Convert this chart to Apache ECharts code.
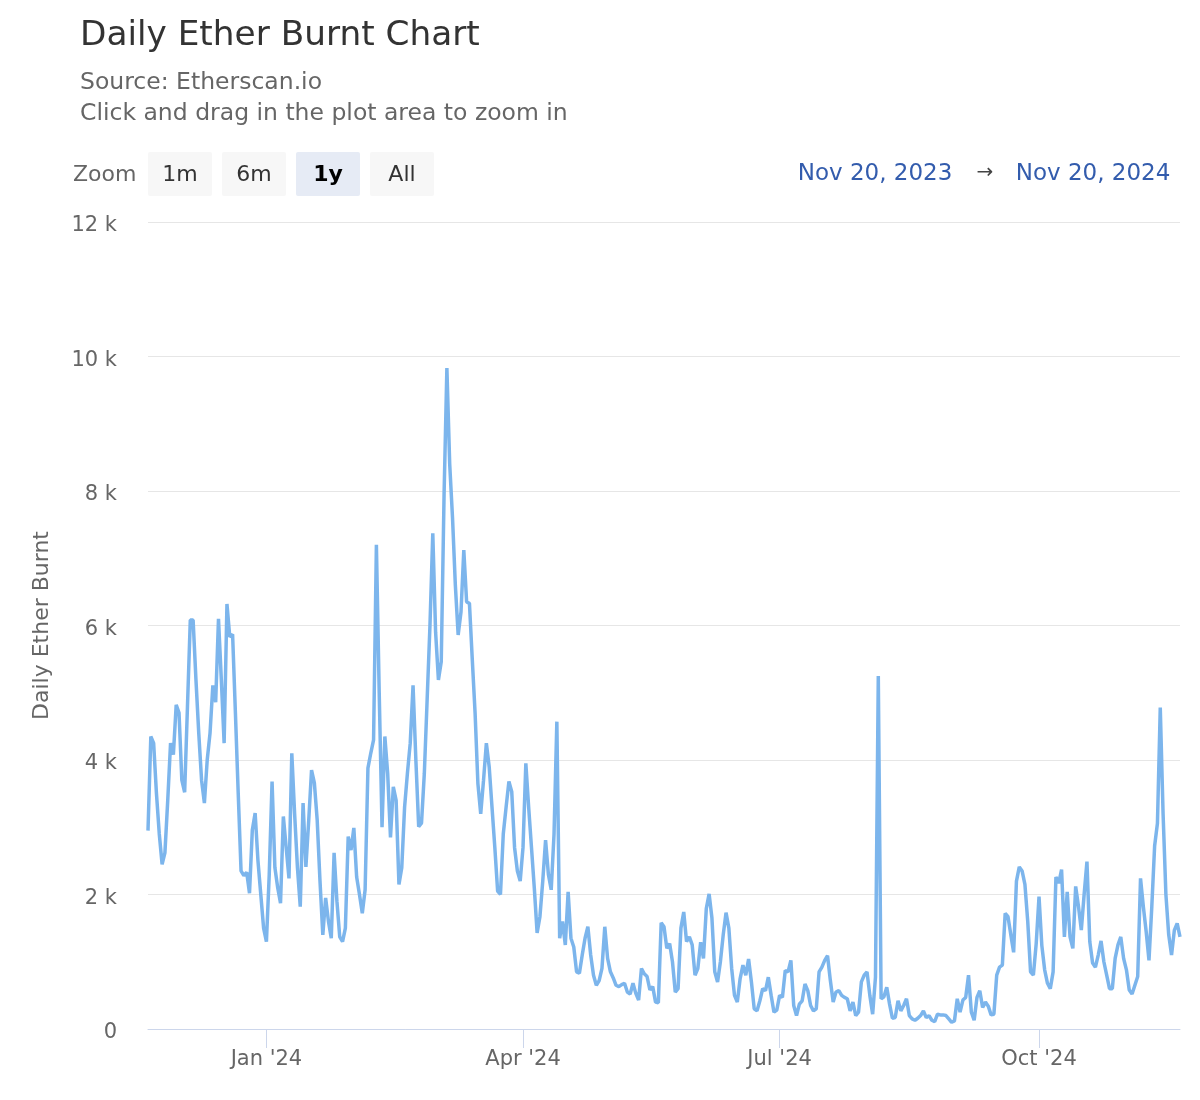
<!DOCTYPE html>
<html>
<head>
<meta charset="utf-8">
<title>Daily Ether Burnt Chart</title>
<script src="https://cdn.jsdelivr.net/npm/echarts@6/dist/echarts.min.js"></script>
<style>
  html, body { margin: 0; padding: 0; background: #fff; }
  #chart { width: 1200px; height: 1100px; }
</style>
</head>
<body>
<div id="chart"></div>
<script>
// daily ether burnt, one value per day from Nov 20, 2023
var burnt2023 = [
  2950, 4350, 4250, 3500, 2900, 2450, 2620, 3400, 4250, 4080,
  4820, 4700, 3700, 3520, 4800, 6080, 6080, 5200, 4400, 3700,
  3360, 4000, 4400, 5110, 4860, 6100, 5200, 4250, 6320, 5830,
  5870, 4700, 3500, 2350, 2280, 2330, 2020, 2960, 3210, 2500,
  2000, 1500
];
var burntQ1 = [
  1300, 2300, 3680, 2400, 2100, 1870, 3160, 2700, 2240, 4100,
  3200, 2400, 1820, 3360, 2410, 3100, 3850, 3660, 3110, 2200,
  1400, 1950, 1600, 1350, 2620, 1900, 1370, 1300, 1500, 2860,
  2660, 2990, 2260, 2000, 1720, 2070, 3880, 4100, 4300, 7200,
  5000, 3000, 4350, 3800, 2850, 3600, 3400, 2150, 2400, 3300,
  3800, 4250, 5110, 4000, 3010, 3060, 3800, 4900, 6000, 7370,
  5900, 5190, 5460, 7940, 9830, 8400, 7600, 6600, 5860, 6200,
  7120, 6350, 6330, 5500, 4700, 3650, 3200, 3700, 4250, 3900,
  3300, 2700, 2050, 2000, 2900, 3300, 3680, 3530, 2700, 2350,
  2200
];
var burntQ2 = [
  2700, 3950, 3300, 2700, 2100, 1430, 1670, 2200, 2810, 2300,
  2070, 2900, 4570, 1350, 1600, 1250, 2040, 1350, 1220, 850,
  830, 1100, 1350, 1520, 1100, 800, 650, 720, 900, 1520,
  1050, 850, 760, 650, 630, 660, 680, 550, 520, 680,
  530, 430, 900, 820, 780, 580, 630, 400, 390, 1580,
  1520, 1200, 1270, 1000, 550, 600, 1500, 1740, 1300, 1370,
  1250, 800, 900, 1290, 1050, 1790, 2010, 1650, 850, 700,
  1000, 1400, 1730, 1500, 900, 500, 400, 750, 950, 800,
  1040, 700, 300, 270, 420, 600, 570, 770, 500, 250,
  280
];
var burntQ3 = [
  500, 470, 870, 850, 1020, 350, 200, 370, 420, 670,
  570, 350, 270, 300, 850, 920, 1020, 1090, 720, 400,
  550, 570, 500, 470, 450, 270, 400, 200, 250, 700,
  800, 850, 500, 220, 770, 5250, 450, 480, 620, 370,
  160, 170, 420, 270, 350, 450, 200, 150, 130, 160,
  200, 270, 170, 200, 130, 110, 220, 210, 210, 200,
  150, 100, 120, 450, 250, 430, 470, 800, 250, 130,
  470, 570, 320, 400, 340, 210, 220, 800, 920, 950,
  1720, 1670, 1400, 1140, 2200, 2410, 2350, 2150, 1600, 850,
  800, 1270
];
var burntQ4 = [
  1970, 1240, 880, 680, 600, 850, 2260, 2170, 2370, 1370,
  2040, 1370, 1200, 2120, 1820, 1470, 2000, 2490, 1300, 980,
  920, 1100, 1310, 1000, 800, 600, 600, 1050, 1250, 1370,
  1050, 880, 580, 520, 650, 780, 2240, 1820, 1450, 1020,
  1820, 2720, 3060, 4780, 3200, 2000, 1400, 1100, 1470, 1570,
  1370
];

var firstDay = Date.UTC(2023, 10, 20);
var lastDay = Date.UTC(2024, 10, 20);
var quarterTicks = [Date.UTC(2024, 0, 1), Date.UTC(2024, 3, 1), Date.UTC(2024, 6, 1), Date.UTC(2024, 9, 1)];
var monthNames = ["Jan", "Feb", "Mar", "Apr", "May", "Jun", "Jul", "Aug", "Sep", "Oct", "Nov", "Dec"];
var zoomButtons = ["1m", "6m", "1y", "All"];
var selectedButton = "1y";

var burnt = [].concat(burnt2023, burntQ1, burntQ2, burntQ3, burntQ4);
var seriesData = burnt.map(function (v, i) {
  return [firstDay + i * 86400000, v];
});

var font = "DejaVu Sans";

// range selector buttons, drawn as graphic elements
var graphics = [
  {
    type: "text", x: 73, y: 175,
    style: { text: "Zoom", font: "22px " + font, fill: "#666666", verticalAlign: "middle" }
  }
];
zoomButtons.forEach(function (b, i) {
  var x = 148 + i * 74;
  var sel = b === selectedButton;
  graphics.push({
    type: "rect",
    shape: { x: x, y: 152, width: 64, height: 44, r: 2 },
    style: { fill: sel ? "#e6ebf5" : "#f7f7f7" }
  });
  graphics.push({
    type: "text",
    x: x + 32, y: 175,
    style: {
      text: b, font: (sel ? "bold " : "") + "22px " + font,
      fill: sel ? "#000000" : "#333333", align: "center", verticalAlign: "middle"
    }
  });
});
graphics.push(
  {
    type: "text", x: 875, y: 174,
    style: { text: "Nov 20, 2023", font: "23px " + font, fill: "#335cad", align: "center", verticalAlign: "middle" }
  },
  {
    type: "text", x: 985, y: 173,
    style: { text: "→", font: "20px " + font, fill: "#444444", align: "center", verticalAlign: "middle" }
  },
  {
    type: "text", x: 1093, y: 174,
    style: { text: "Nov 20, 2024", font: "23px " + font, fill: "#335cad", align: "center", verticalAlign: "middle" }
  }
);

var chart = echarts.init(document.getElementById("chart"));
chart.setOption({
  animation: false,
  textStyle: { fontFamily: font },
  title: [
    {
      text: "Daily Ether Burnt Chart",
      left: 75, top: 14,
      textStyle: { fontSize: 34.3, fontWeight: "normal", color: "#333333" }
    },
    {
      text: "Source: Etherscan.io\nClick and drag in the plot area to zoom in",
      left: 75, top: 62,
      textStyle: { fontSize: 23.5, fontWeight: "normal", color: "#666666", lineHeight: 31 }
    }
  ],
  graphic: graphics,
  grid: { left: 148, right: 20, top: 222, bottom: 71, containLabel: false },
  xAxis: {
    type: "value",
    min: firstDay,
    max: lastDay,
    axisLine: { lineStyle: { color: "#ccd6eb", width: 1 } },
    axisTick: {
      show: true, length: 19,
      lineStyle: { color: "#ccd6eb" },
      customValues: quarterTicks
    },
    axisLabel: {
      customValues: quarterTicks,
      color: "#666666", fontSize: 21, margin: 20,
      formatter: function (v) {
        var d = new Date(v);
        return monthNames[d.getUTCMonth()] + " '" + String(d.getUTCFullYear()).slice(2);
      }
    },
    splitLine: { show: false }
  },
  yAxis: {
    type: "value",
    min: 0, max: 12000, interval: 2000,
    name: "Daily Ether Burnt",
    nameLocation: "middle",
    nameRotate: 90,
    nameGap: 95,
    nameTextStyle: { fontSize: 22, color: "#666666" },
    axisLine: { show: false },
    axisTick: { show: false },
    axisLabel: {
      color: "#666666", fontSize: 21, margin: 31,
      verticalAlign: "top", lineHeight: 8,
      formatter: function (v) { return v === 0 ? "0" : v / 1000 + " k"; }
    },
    splitLine: { lineStyle: { color: "#e6e6e6", width: 1 } }
  },
  series: [
    {
      name: "Daily Ether Burnt",
      type: "line",
      data: seriesData,
      showSymbol: false,
      lineStyle: { color: "#7cb5ec", width: 3.5 },
      itemStyle: { color: "#7cb5ec" }
    }
  ]
});
</script>
</body>
</html>
